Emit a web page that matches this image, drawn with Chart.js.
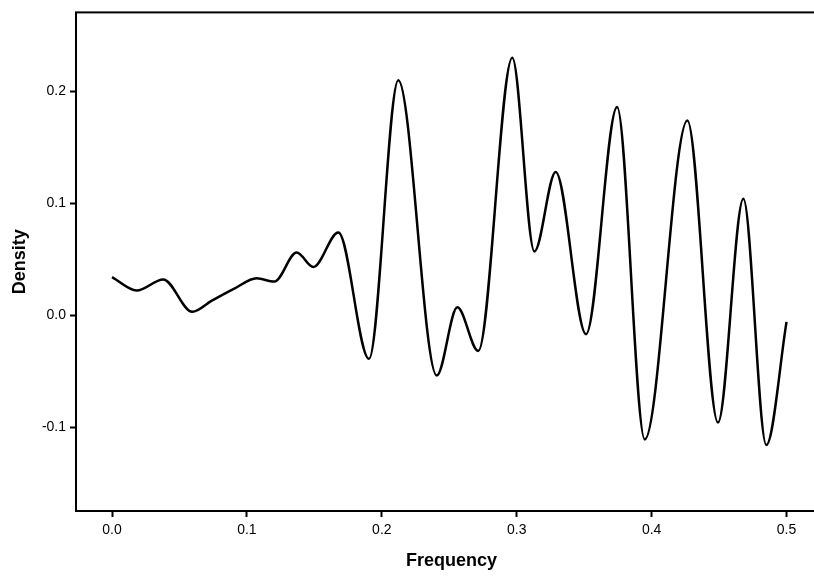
<!DOCTYPE html>
<html>
<head>
<meta charset="utf-8">
<script src="https://cdn.jsdelivr.net/npm/chart.js@4/dist/chart.umd.min.js"></script>
<style>
  html, body { margin: 0; padding: 0; background: #fff; overflow: hidden; }
  #wrap { width: 814px; height: 577px; overflow: hidden; }
  canvas { display: block; }
</style>
</head>
<body>
<div id="wrap"><canvas id="myChart" width="830" height="577"></canvas></div>
<script>
// values
const frequency = [0, 0.0183, 0.038, 0.0595, 0.074, 0.091, 0.1072, 0.1203, 0.1369, 0.1492,
                   0.1678, 0.1905, 0.2122, 0.2407, 0.256, 0.2715, 0.2967, 0.3131, 0.3289,
                   0.3514, 0.3744, 0.3949, 0.4265, 0.4492, 0.468, 0.485, 0.5];
const density = [0.034, 0.022, 0.032, 0.003, 0.013, 0.024, 0.033, 0.030, 0.056, 0.043,
                 0.074, -0.039, 0.210, -0.054, 0.007, -0.032, 0.230, 0.057, 0.128,
                 -0.017, 0.186, -0.111, 0.174, -0.096, 0.104, -0.116, -0.006];
const xTicks = [0, 0.1, 0.2, 0.3, 0.4, 0.5];
const yTicks = [-0.1, 0, 0.1, 0.2];

const points = frequency.map((f, i) => ({ x: f, y: density[i] }));

// black frame round the plot area
const frame = {
    id: 'frame',
    afterDraw(chart) {
        const a = chart.chartArea;
        const c = chart.ctx;
        c.save();
        c.strokeStyle = '#000';
        c.lineWidth = 2;
        c.strokeRect(a.left, a.top, a.right - a.left, a.bottom - a.top);
        c.restore();
    }
};

const font = { family: '"Liberation Sans", Arial, sans-serif', size: 14 };
const titleFont = { family: '"Liberation Sans", Arial, sans-serif', size: 18, weight: 'bold' };

const config = {
    type: 'line',
    data: {
        datasets: [{
            data: points,
            borderColor: '#000',
            borderWidth: 2.5,
            pointRadius: 0,
            fill: false,
            cubicInterpolationMode: 'monotone'
        }]
    },
    options: {
        responsive: false,
        animation: false,
        layout: { padding: { top: 9, right: 3, left: 0, bottom: 0 } },
        plugins: { legend: { display: false }, tooltip: { enabled: false } },
        scales: {
            x: {
                type: 'linear',
                min: -0.0267,
                max: 0.53,
                afterBuildTicks: s => { s.ticks = xTicks.map(v => ({ value: v })); },
                afterFit: s => { s.height = 66; },
                border: { display: false },
                grid: { drawOnChartArea: false, drawTicks: true, tickLength: 6, tickColor: '#000', tickWidth: 2 },
                ticks: { color: '#000', font: font, padding: 5, maxRotation: 0,
                         callback: v => v.toFixed(1) },
                title: { display: true, text: 'Frequency', color: '#000', font: titleFont,
                         padding: { top: 0, bottom: 5 } }
            },
            y: {
                min: -0.175,
                max: 0.2706,
                afterBuildTicks: s => { s.ticks = yTicks.map(v => ({ value: v })); },
                afterFit: s => { s.width = 76; },
                border: { display: false },
                grid: { drawOnChartArea: false, drawTicks: true, tickLength: 6, tickColor: '#000', tickWidth: 2 },
                ticks: { color: '#000', font: font, padding: 4,
                         callback: v => v.toFixed(1) },
                title: { display: true, text: 'Density', color: '#000', font: titleFont,
                         padding: { top: 9, bottom: 0 } }
            }
        }
    },
    plugins: [frame]
};

new Chart(document.getElementById('myChart'), config);
</script>
</body>
</html>
